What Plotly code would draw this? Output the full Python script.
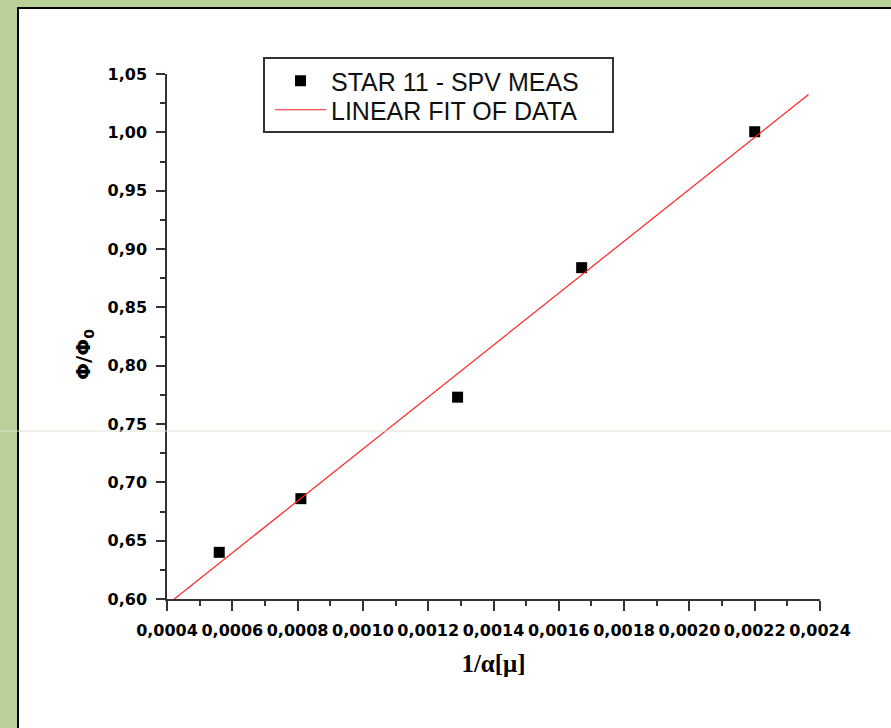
import numpy as np
import plotly.graph_objects as go

# Measured points: 1/alpha vs normalised flux
inv_alpha = [0.00056, 0.00081, 0.00129, 0.00167, 0.00220]
phi_ratio = [0.640, 0.686, 0.773, 0.884, 1.0005]

# Extent of the fitted line along x
fit_x_range = [0.000418, 0.002365]

x_ticks = [0.0004, 0.0024, 0.0002]
y_ticks = [0.60, 1.05, 0.05]

slope, intercept = np.polyfit(inv_alpha, phi_ratio, 1)
fit_x = np.array(fit_x_range)
fit_y = slope * fit_x + intercept

W, H = 891, 728
L, R, T, B = 167, 71, 74, 129
pw, ph = W - L - R, H - T - B


def px_to_paper(x_px, y_px):
    return (x_px - L) / pw, (H - B - y_px) / ph


fig = go.Figure()
fig.add_trace(go.Scatter(
    x=inv_alpha, y=phi_ratio, mode="markers", name="STAR 11 - SPV MEAS",
    marker=dict(symbol="square", size=11, color="black"), legend="legend",
))
fig.add_trace(go.Scatter(
    x=fit_x, y=fit_y, mode="lines", name="LINEAR FIT OF DATA",
    line=dict(color="#ff2020", width=1.2), legend="legend2",
))

# White panel with dark left/top border on the green page
px0, py0 = px_to_paper(18, 8)
px1, py1 = px_to_paper(W + 20, H + 20)
shapes = [
    dict(type="rect", xref="paper", yref="paper", x0=px0, y0=py1, x1=px1, y1=py0,
         fillcolor="white", line=dict(color="black", width=2), layer="below"),
]
# Faint horizontal rule across the page
_, ry = px_to_paper(0, 431)
shapes.append(dict(type="line", xref="paper", yref="paper", x0=-0.4, x1=1.3,
                   y0=ry, y1=ry, line=dict(color="#dfe2d3", width=1), layer="above"))
# Legend frame
lx0, ly0 = px_to_paper(264, 58)
lx1, ly1 = px_to_paper(613, 132)
shapes.append(dict(type="rect", xref="paper", yref="paper", x0=lx0, y0=ly1, x1=lx1, y1=ly0,
                   fillcolor="white", line=dict(color="#333", width=2), layer="below"))

tick_font = dict(family="DejaVu Sans", size=16, color="black", weight="bold")
axis_common = dict(
    showline=True, linecolor="#333", linewidth=1.5, showgrid=False, zeroline=False,
    ticks="outside", tickcolor="#333", tickwidth=1.5, tickfont=tick_font,
    mirror=False,
)

legend_font = dict(family="Liberation Sans", size=25, color="#111")


def legend_at(y_center_px):
    return dict(
        x=px_to_paper(270, 0)[0], y=px_to_paper(0, y_center_px)[1],
        xanchor="left", yanchor="middle", itemwidth=51,
        bgcolor="rgba(0,0,0,0)", borderwidth=0, font=legend_font,
    )


yx, yy = px_to_paper(84, 355)

fig.update_layout(
    width=W, height=H,
    margin=dict(l=L, r=R, t=T, b=B, pad=0),
    paper_bgcolor="#b9d098",
    plot_bgcolor="white",
    separators=",.",
    showlegend=True,
    shapes=shapes,
    legend=legend_at(81),
    legend2=legend_at(110),
    annotations=[dict(
        text="Φ/Φ<sub>0</sub>", textangle=-90, xref="paper", yref="paper",
        x=yx, y=yy, xanchor="center", yanchor="middle", showarrow=False,
        font=dict(family="DejaVu Sans", size=20, color="black", weight="bold"),
    )],
    xaxis=dict(
        range=[x_ticks[0], x_ticks[1]], tick0=x_ticks[0], dtick=x_ticks[2],
        tickformat=".4f", ticklen=10, ticklabelstandoff=6,
        minor=dict(ticks="outside", dtick=x_ticks[2] / 2, ticklen=5,
                   tickcolor="#333", tickwidth=1.5, showgrid=False),
        title=dict(text="1/α[μ]", standoff=16,
                   font=dict(family="Liberation Serif", size=25, color="black", weight="bold")),
        **axis_common,
    ),
    yaxis=dict(
        range=[y_ticks[0], y_ticks[1]], tick0=y_ticks[0], dtick=y_ticks[2],
        tickformat=".2f", ticklen=9, ticklabelstandoff=6,
        minor=dict(ticks="outside", dtick=y_ticks[2] / 2, ticklen=5,
                   tickcolor="#333", tickwidth=1.5, showgrid=False),
        **axis_common,
    ),
)

fig.write_html("out.html")
